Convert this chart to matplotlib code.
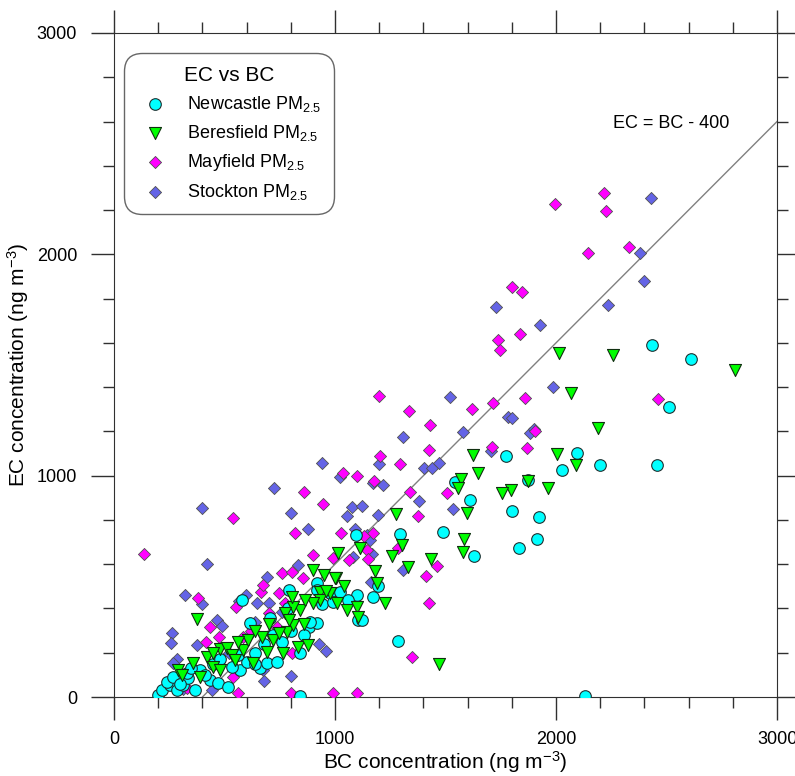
import numpy as np
import matplotlib.pyplot as plt
from matplotlib.ticker import MultipleLocator

plt.rcParams['font.family'] = ['Liberation Sans', 'DejaVu Sans']
plt.rcParams['mathtext.fontset'] = 'custom'
plt.rcParams['mathtext.rm'] = 'Liberation Sans'
plt.rcParams['mathtext.it'] = 'Liberation Sans'
plt.rcParams['mathtext.default'] = 'regular'

# Newcastle PM2.5 (BC, EC) in ng m-3
newcastle_bc = [2434, 2611, 2511, 2457, 2199, 2097, 2028, 1775, 1611, 1873, 1543, 1801, 1923,
                1914, 1833, 1489, 1629, 1294, 1095, 1195, 1285, 2131, 840,
                199, 217, 253, 285, 312, 335, 366, 389, 434, 470, 516, 570, 615, 661, 692, 706,
                738, 842, 882, 918, 887, 792, 918, 918, 977, 1023, 1100, 1172, 1104, 1122, 579,
                787, 602, 534,
                240, 265, 300, 330, 350, 410, 450, 480, 560, 640, 680, 720, 760, 800, 860, 940,
                990, 1060, 640]
newcastle_ec = [1591, 1527, 1310, 1048, 1048, 1102, 1024, 1090, 890, 981, 972, 840, 813,
                714, 673, 746, 637, 737, 732, 502, 253, 5, 5,
                9, 32, 54, 32, 54, 86, 32, 122, 77, 63, 45, 122, 334, 131, 154, 357,
                158, 199, 316, 334, 339, 484, 515, 484, 470, 474, 461, 452, 348, 348, 438,
                402, 158, 136,
                70, 90, 60, 110, 130, 100, 150, 170, 190, 200, 240, 280, 250, 300, 280, 420,
                430, 440, 150]

# Beresfield PM2.5
beresfield_bc = [2014, 2258, 2810, 2068, 2190, 1624, 1645, 1568, 1555, 2005, 2090, 1875, 1963,
                 1798, 1754, 1597, 1276, 1584, 1579, 1303, 1258, 1434, 1330, 1181, 1190, 1014,
                 1113, 1005, 1471,
                 375, 480, 290, 307, 357, 389, 421, 448, 480, 511, 534, 548, 584, 606, 629, 670,
                 692, 720, 765, 783, 810, 842, 810, 833, 878, 900, 950, 1000, 1009, 1054, 1100,
                 1104, 1226, 932, 977, 932, 900, 864, 805, 774, 448,
                 560, 640, 700, 745, 790, 860, 960, 1040]
beresfield_ec = [1554, 1545, 1478, 1373, 1216, 1094, 1012, 987, 942, 1098, 1050, 978, 942,
                 935, 920, 831, 827, 714, 655, 687, 637, 624, 587, 569, 515, 651,
                 673, 538, 149,
                 352, 217, 122, 99, 154, 90, 181, 136, 122, 221, 190, 167, 212, 258, 154, 271,
                 203, 258, 199, 294, 325, 393, 407, 226, 235, 574, 551, 538, 425, 393, 407,
                 362, 425, 474, 470, 438, 425, 438, 452, 380, 199,
                 250, 300, 330, 290, 350, 330, 480, 500]

# Mayfield PM2.5
mayfield_bc = [2217, 2226, 2330, 1995, 2145, 1801, 1846, 1738, 1747, 1837, 1620, 1715, 1860,
               2462, 1335, 1430, 1425, 1294, 1710, 1869, 1905, 1339, 1507, 1199, 1204, 1036,
               1100, 1176, 1376, 1027, 1172, 1131, 1145, 1063, 1149, 991, 1285, 1462, 1412,
               561, 801, 991, 1100, 136, 538, 380, 552, 434, 475, 416, 665, 674, 747, 760,
               855, 805, 738, 774, 805, 539, 1348, 1425, 584,
               860, 945, 820, 620, 700, 900, 330]
mayfield_ec = [2277, 2196, 2033, 2228, 2006, 1853, 1830, 1613, 1568, 1640, 1301, 1328, 1351,
               1347, 1292, 1229, 1116, 1053, 1130, 1125, 1202, 926, 922, 1360, 1089, 1012,
               999, 976, 818, 741, 741, 728, 664, 619, 624, 628, 673, 592, 547,
               18, 18, 18, 18, 646, 809, 447, 407, 316, 271, 249, 474, 506, 470, 560,
               538, 565, 316, 425, 199, 90, 181, 425, 271,
               925, 870, 740, 300, 380, 640, 40]

# Stockton PM2.5
stockton_bc = [2430, 2380, 2398, 2235, 1728, 1928, 1520, 1986, 1308, 1579, 1783, 1801, 1882,
               1900, 1706, 1403, 1439, 1471, 1380, 1199, 1023, 1172, 1217, 1534, 1077, 1122,
               1054, 1195, 1090, 1145, 1158, 1081, 1167, 1308, 1163,
               421, 321, 398, 262, 258, 375, 466, 489, 285, 267, 692, 597, 566, 647, 701, 760,
               674, 801, 928, 959, 443, 312, 833, 679, 398,
               724, 941, 800, 880, 600, 520, 640]
stockton_ec = [2255, 2006, 1880, 1771, 1762, 1681, 1356, 1401, 1175, 1197, 1265, 1261, 1193,
               1211, 1112, 1035, 1035, 1057, 886, 1053, 994, 967, 958, 850, 859, 863,
               818, 822, 759, 732, 709, 633, 646, 574, 520,
               601, 461, 420, 289, 244, 235, 348, 321, 172, 154, 542, 461, 434, 425, 425, 384,
               122, 95, 239, 208, 32, 36, 596, 72, 854,
               944, 1057, 830, 760, 270, 200, 340]

line_bc = [400, 3000]
line_ec = [0, 2600]

fig = plt.figure(figsize=(7.95, 7.76), dpi=100)
ax = fig.add_axes([0.1434, 0.1018, 0.834, 0.8557])

ax.plot(line_bc, line_ec, color='#808080', lw=1, zorder=1)

ax.scatter(stockton_bc, stockton_ec, marker='D', s=38, c='#6464E6', edgecolors='#505050',
           linewidths=0.6, label='Stockton PM$_{2.5}$', zorder=2)
ax.scatter(mayfield_bc, mayfield_ec, marker='D', s=38, c='#FF00FF', edgecolors='#505050',
           linewidths=0.6, label='Mayfield PM$_{2.5}$', zorder=3)
ax.scatter(newcastle_bc, newcastle_ec, marker='o', s=70, c='#00FFFF', edgecolors='#203030',
           linewidths=0.8, label='Newcastle PM$_{2.5}$', zorder=4)
ax.scatter(beresfield_bc, beresfield_ec, marker='v', s=75, c='#00FF00', edgecolors='#103010',
           linewidths=0.8, label='Beresfield PM$_{2.5}$', zorder=5)

ax.text(2520, 2590, 'EC = BC - 400', fontsize=13, ha='center', va='center')

ax.set_xlim(0, 3000)
ax.set_ylim(0, 3000)
ax.xaxis.set_major_locator(MultipleLocator(1000))
ax.xaxis.set_minor_locator(MultipleLocator(200))
ax.yaxis.set_major_locator(MultipleLocator(1000))
ax.yaxis.set_minor_locator(MultipleLocator(200))
ax.tick_params(which='both', direction='out', top=True, right=True, color='#303030',
               labelsize=13, width=1)
ax.tick_params(which='major', length=16.5)
ax.tick_params(which='minor', length=8)
ax.tick_params(axis='x', which='major', pad=8)
ax.tick_params(axis='y', which='major', pad=10)
for s in ax.spines.values():
    s.set_color('#303030')

ax.set_xlabel('BC concentration (ng m$^{-3}$)', fontsize=15, labelpad=1)
ax.set_ylabel('EC concentration (ng m$^{-3}$)', fontsize=15, labelpad=4)

handles, labels = ax.get_legend_handles_labels()
order = [2, 3, 1, 0]
leg = ax.legend([handles[i] for i in order], [labels[i] for i in order],
                title='EC vs BC', loc='upper left', bbox_to_anchor=(0.015, 0.97),
                fontsize=13, title_fontsize=15, frameon=True, fancybox=True,
                edgecolor='#404040', handletextpad=0.8, borderpad=0.7, labelspacing=0.5,
                borderaxespad=0)
leg.get_frame().set_linewidth(1)
leg.get_frame().set_boxstyle('round', pad=0, rounding_size=1.0)

fig.savefig('out.png', dpi=100)
